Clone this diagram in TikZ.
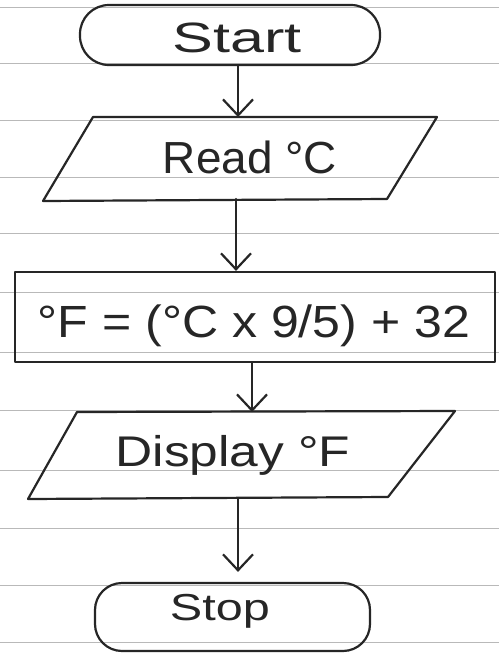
\documentclass[tikz,border=0pt]{standalone}
\usepackage{fontspec}
\usepackage{graphicx}
\setmainfont{Liberation Sans}
\usetikzlibrary{arrows.meta}
\newcommand\hwtext[3]{\resizebox*{#1}{#2}{#3}}
\begin{document}
\begin{tikzpicture}[x=1pt,y=-1pt,
  ink/.style={draw=black!85, line width=2.2pt, line join=round, line cap=round},
  arr/.style={ink, -{Straight Barb[length=16pt,width=30pt]}},
  term/.style={ink, rectangle, inner sep=0pt},
  procbox/.style={ink, rectangle, inner sep=0pt},
  lbl/.style={inner sep=0pt, text=black!85},
  paper/.style={draw=gray!55, line width=0.9pt}
]
\useasboundingbox (0,0) rectangle (499,654);
\fill[white] (0,0) rectangle (499,654);
\foreach \y in {7,63,120,177,233,292,352,410,470,528,585,642}
  \draw[paper] (0,\y) -- (499,\y);

% terminals and process box
\node[term, rounded corners=29pt, minimum width=300pt, minimum height=60pt] (start) at (230,35) {};
\node[procbox, minimum width=480pt, minimum height=90pt] (calc) at (255,317) {};
\node[term, rounded corners=27pt, minimum width=275pt, minimum height=68pt] (stop) at (232.5,617) {};

% input / output parallelograms
\coordinate (rTL) at (93,117);
\coordinate (rTR) at (437,117);
\coordinate (rBR) at (387,199);
\coordinate (rBL) at (43,201);
\draw[ink] (rTL) -- (rTR) -- (rBR) -- (rBL) -- cycle;
\coordinate (dTL) at (77,412);
\coordinate (dTR) at (455,411);
\coordinate (dBR) at (388,497);
\coordinate (dBL) at (28,499);
\draw[ink] (dTL) -- (dTR) -- (dBR) -- (dBL) -- cycle;

% texts
\node[lbl] (tstart) at (237,38) {\hwtext{129pt}{30pt}{Start}};
\node[lbl] (tread) at (250,157) {\hwtext{174pt}{33pt}{Read °C}};
\node[lbl] (tcalc) at (254,326) {\hwtext{432pt}{42pt}{°F = (°C x 9/5) + 32}};
\node[lbl] (tdisp) at (233,455) {\hwtext{235pt}{40pt}{Display °F}};
\node[lbl] (tstop) at (220,611) {\hwtext{100pt}{34pt}{Stop}};

% connector x positions
\coordinate (x1) at (238,0);
\coordinate (x2) at (236,0);
\coordinate (x3) at (252,0);
\coordinate (x4) at (238,0);

\draw[arr] (start.south -| x1) -- (rTL -| x1);
\draw[arr] (rBR -| x2) -- (calc.north -| x2);
\draw[arr] (calc.south -| x3) -- (dTL -| x3);
\draw[arr, shorten >=10pt] (dBL -| x4) -- (stop.north -| x4);
\end{tikzpicture}
\end{document}
